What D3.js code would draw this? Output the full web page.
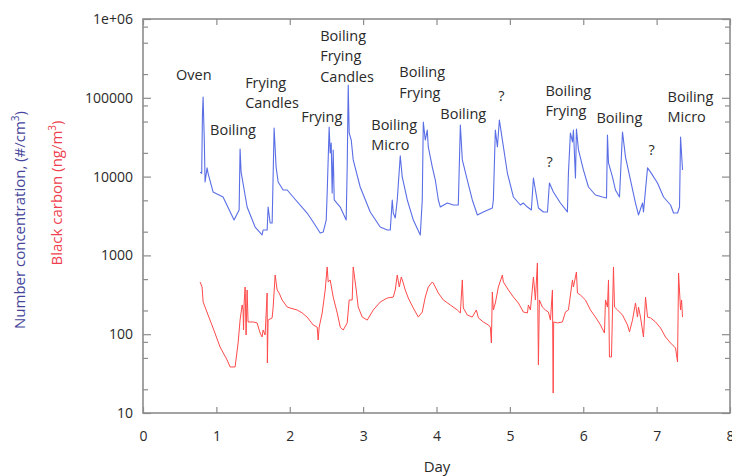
<!DOCTYPE html>
<html>
<head>
<meta charset="utf-8">
<script src="https://cdn.jsdelivr.net/npm/d3@7"></script>
<style>
  html, body { margin: 0; padding: 0; background: #fff; }
  svg { display: block; font-family: "Open Sans", "Noto Sans", sans-serif; }
</style>
</head>
<body>
<svg id="chart" width="732" height="476"></svg>
<script>
// ---- Data ----
const ncDays = [0.778,0.800,0.810,0.819,0.835,0.846,0.873,0.887,0.955,1.091,1.228,1.241,1.310,1.323,1.337,1.419,1.528,1.623,1.637,1.692,1.705,1.733,1.760,1.787,1.814,1.842,1.910,1.965,2.046,2.237,2.319,2.415,2.456,2.497,2.510,2.537,2.551,2.565,2.578,2.592,2.606,2.688,2.769,2.783,2.797,2.810,2.838,2.865,2.960,3.097,3.233,3.329,3.370,3.397,3.411,3.438,3.465,3.506,3.533,3.602,3.684,3.779,3.806,3.820,3.847,3.874,3.888,3.943,3.984,4.025,4.052,4.147,4.229,4.297,4.325,4.352,4.420,4.488,4.557,4.638,4.761,4.775,4.802,4.830,4.857,4.898,4.966,5.048,5.143,5.184,5.239,5.293,5.321,5.348,5.389,5.457,5.512,5.539,5.593,5.689,5.784,5.798,5.825,5.853,5.866,5.894,5.907,5.935,6.003,6.071,6.166,6.262,6.317,6.330,6.344,6.398,6.439,6.494,6.535,6.576,6.644,6.712,6.753,6.808,6.821,6.876,6.917,7.012,7.094,7.190,7.231,7.285,7.312,7.326,7.353];
const ncValues = [11400,11000,60000,102000,30000,8540,12900,11000,6380,5510,2980,2810,3770,22400,11400,4110,2290,1820,2100,2100,4110,2580,2580,41400,13200,8540,6760,6760,5510,3450,2650,1920,1980,2810,6200,42600,19900,26700,6200,21800,5050,4110,2810,13200,145000,35800,29100,16300,7380,3560,2290,2100,2100,5050,3450,2980,5050,18300,9900,5050,2810,1820,5050,49300,29100,39000,23800,13200,9050,5050,4110,4620,4360,4360,45200,16300,9050,5050,3260,3560,4000,5050,39000,23800,52300,29100,11100,5510,4360,4620,4110,3770,9600,6760,4000,3560,3560,8300,6380,4620,3560,11100,35800,27500,39000,9600,40200,21800,12100,7380,5840,5510,5350,33700,14900,9900,6760,5510,36800,17700,9050,4620,3260,4620,3560,12900,11400,8300,5510,4360,3450,3450,4110,31800,12100];

const bcDays = [0.778,0.805,0.820,0.887,0.955,1.050,1.146,1.187,1.255,1.296,1.323,1.351,1.364,1.370,1.378,1.392,1.405,1.419,1.432,1.501,1.555,1.596,1.623,1.637,1.664,1.692,1.695,1.705,1.760,1.774,1.801,1.828,1.855,1.896,1.965,2.005,2.101,2.169,2.237,2.319,2.374,2.387,2.401,2.442,2.483,2.510,2.524,2.551,2.592,2.647,2.688,2.729,2.783,2.810,2.851,2.865,2.906,2.933,2.988,3.056,3.138,3.233,3.329,3.411,3.438,3.465,3.493,3.520,3.547,3.574,3.615,3.684,3.752,3.806,3.847,3.888,3.943,3.956,4.025,4.093,4.188,4.284,4.325,4.352,4.366,4.420,4.488,4.543,4.571,4.638,4.707,4.734,4.748,4.761,4.775,4.802,4.843,4.898,4.911,4.980,5.048,5.116,5.184,5.239,5.252,5.280,5.321,5.348,5.375,5.389,5.402,5.443,5.484,5.525,5.553,5.580,5.590,5.597,5.648,5.716,5.757,5.798,5.853,5.866,5.907,5.921,5.962,6.030,6.098,6.166,6.235,6.289,6.303,6.330,6.344,6.357,6.385,6.412,6.426,6.467,6.535,6.603,6.630,6.671,6.712,6.739,6.753,6.780,6.821,6.849,6.876,6.917,6.985,7.053,7.121,7.190,7.258,7.285,7.299,7.326,7.340,7.353];
const bcValues = [460,397,256,175,120,68.9,47.1,38.4,38.4,77.3,151,235,203,113,249,397,97.7,364,143,143,139,103.5,92.2,113,97.7,333,43.1,151,161,221,564,364,333,272,221,215,203,186,165,131,123,84.4,123,186,364,713,460,488,296,186,123,113,139,272,272,713,364,221,165,151,203,256,288,296,364,564,397,532,447,364,288,215,165,191,296,397,460,447,333,272,235,203,186,488,215,175,165,203,161,143,131,123,77.3,343,203,249,397,564,460,364,296,249,191,186,235,203,532,272,801,40.6,272,221,203,191,151,364,17.9,143,139,143,191,203,488,397,616,333,314,272,203,165,131,103.5,272,221,488,51.4,51.4,713,221,203,175,131,107,151,249,165,221,165,92.2,296,165,161,143,120,92.2,77.3,66.8,44.4,598,203,272,165];

const xTickValues = [0,1,2,3,4,5,6,7,8];
const yMajorTicks = [10,100,1000,10000,100000,1000000];
const yMinorTicks = [800000,500000,200000,80000,50000,20000,5000,2000,500,200,80,50,20];

const annotations = [
  {day: 0.450, value: 189000, lines: ["Oven"]},
  {day: 0.914, value: 37900,  lines: ["Boiling"]},
  {day: 1.392, value: 150000, lines: ["Frying","Candles"]},
  {day: 2.156, value: 55400,  lines: ["Frying"]},
  {day: 2.415, value: 591000, lines: ["Boiling","Frying","Candles"]},
  {day: 3.111, value: 43900,  lines: ["Boiling","Micro"]},
  {day: 3.493, value: 206000, lines: ["Boiling","Frying"]},
  {day: 4.052, value: 60500,  lines: ["Boiling"]},
  {day: 4.843, value: 102000, lines: ["?"]},
  {day: 5.498, value: 14900,  lines: ["?"]},
  {day: 5.484, value: 119000, lines: ["Boiling","Frying"]},
  {day: 6.180, value: 53800,  lines: ["Boiling"]},
  {day: 6.889, value: 21100,  lines: ["?"]},
  {day: 7.149, value: 100000, lines: ["Boiling","Micro"]}
];

(function () {
const svg = d3.select("#chart");
const mL = 143, mR = 730, mT = 19, mB = 413;
const x = d3.scaleLinear().domain([0, 8]).range([mL, mR]);
const y = d3.scaleLog().domain([10, 1e6]).range([mB, mT]);

const frameColor = "#8c8c8c";
const textColor = "#2a2a2a";

const ncData = ncDays.map((d, i) => [d, ncValues[i]]);
const bcData = bcDays.map((d, i) => [d, bcValues[i]]);
const line = d3.line().x(d => x(d[0])).y(d => y(d[1]));

svg.append("path").datum(bcData).attr("d", line)
  .attr("fill", "none").attr("stroke", "#ff4a4a").attr("stroke-width", 1).attr("stroke-linejoin", "round");
svg.append("path").datum(ncData).attr("d", line)
  .attr("fill", "none").attr("stroke", "#5a6ee6").attr("stroke-width", 1.1).attr("stroke-linejoin", "round");

function styleAxis(g) {
  g.select(".domain").remove();
  g.selectAll(".tick line").attr("stroke", frameColor).attr("stroke-width", 1.2);
  g.selectAll(".tick text").attr("fill", textColor).style("font-size", "14px")
    .style("font-family", '"Open Sans", "Noto Sans", sans-serif');
}
const fmtY = v => v === 1e6 ? "1e+06" : d3.format("d")(v);

svg.append("g").attr("transform", `translate(0,${mB})`)
  .call(d3.axisBottom(x).tickValues(xTickValues).tickSizeInner(-6).tickSizeOuter(0).tickPadding(18).tickFormat(d3.format("d")))
  .call(styleAxis);
svg.append("g").attr("transform", `translate(0,${mT})`)
  .call(d3.axisTop(x).tickValues(xTickValues).tickSizeInner(-6).tickSizeOuter(0).tickFormat(""))
  .call(styleAxis);
svg.append("g").attr("transform", `translate(${mL},0)`)
  .call(d3.axisLeft(y).tickValues(yMajorTicks).tickSizeInner(-8).tickSizeOuter(0).tickPadding(10).tickFormat(fmtY))
  .call(styleAxis);
svg.append("g").attr("transform", `translate(${mL},0)`)
  .call(d3.axisLeft(y).tickValues(yMinorTicks).tickSizeInner(-5).tickSizeOuter(0).tickFormat(""))
  .call(styleAxis);
svg.append("g").attr("transform", `translate(${mR},0)`)
  .call(d3.axisRight(y).tickValues(yMajorTicks).tickSizeInner(-8).tickSizeOuter(0).tickFormat(""))
  .call(styleAxis);
svg.append("g").attr("transform", `translate(${mR},0)`)
  .call(d3.axisRight(y).tickValues(yMinorTicks).tickSizeInner(-5).tickSizeOuter(0).tickFormat(""))
  .call(styleAxis);

svg.append("rect").attr("x", mL).attr("y", mT).attr("width", mR - mL).attr("height", mB - mT)
  .attr("fill", "none").attr("stroke", frameColor).attr("stroke-width", 1.6);

const ann = svg.append("g").style("font-size", "14.5px").attr("fill", textColor);
annotations.forEach(a => {
  const t = ann.append("text").attr("x", x(a.day)).attr("y", y(a.value)).attr("dominant-baseline", "middle");
  a.lines.forEach((l, i) => {
    t.append("tspan").attr("x", x(a.day)).attr("dy", i === 0 ? 0 : 20.5).text(l);
  });
});

svg.append("text").attr("x", 437).attr("y", 472).attr("text-anchor", "middle")
  .attr("fill", textColor).style("font-size", "15px").text("Day");

const t1 = svg.append("text").attr("transform", "translate(25,220) rotate(-90)")
  .attr("text-anchor", "middle").attr("fill", "#44449a").style("font-size", "15px");
t1.append("tspan").text("Number concentration, (#/cm");
t1.append("tspan").attr("dy", -6).style("font-size", "10px").text("3");
t1.append("tspan").attr("dy", 6).text(")");

const t2 = svg.append("text").attr("transform", "translate(62,193) rotate(-90)")
  .attr("text-anchor", "middle").attr("fill", "#f0404f").style("font-size", "15px");
t2.append("tspan").text("Black carbon (ng/m");
t2.append("tspan").attr("dy", -6).style("font-size", "10px").text("3");
t2.append("tspan").attr("dy", 6).text(")");
})();
</script>
</body>
</html>
